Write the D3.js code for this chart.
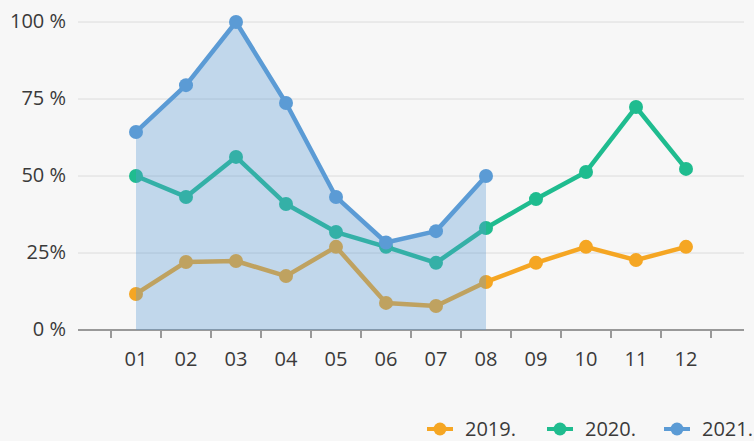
<!DOCTYPE html>
<html>
<head>
<meta charset="utf-8">
<script src="https://cdn.jsdelivr.net/npm/d3@7"></script>
<style>
  body { margin: 0; background: #f7f7f7; }
  svg { display: block; font-family: "Open Sans", sans-serif; }
</style>
</head>
<body>
<script>
// chart data
var months = ["01", "02", "03", "04", "05", "06", "07", "08", "09", "10", "11", "12"];
var yTicks = [0, 25, 50, 75, 100];
var yTickLabels = ["0 %", "25%", "50 %", "75 %", "100 %"];
var years = ["2019.", "2020.", "2021."];
var v2019 = [11.7, 22.1, 22.4, 17.5, 27.0, 8.8, 7.8, 15.6, 21.8, 27.0, 22.7, 27.0];
var v2020 = [50.0, 43.2, 56.2, 40.9, 31.8, 27.0, 21.8, 33.1, 42.5, 51.3, 72.4, 52.3];
var v2021 = [64.3, 79.5, 100, 73.7, 43.2, 28.4, 32.1, 50.0];

var colors = ["#f5a623", "#1fbc8f", "#5b9bd5"];

var width = 754, height = 441;

var svg = d3.select("body")
    .append("svg")
    .attr("width", width)
    .attr("height", height);

svg.append("rect")
    .attr("width", width)
    .attr("height", height)
    .attr("fill", "#f7f7f7");

// scales
var x = d3.scaleBand().domain(months).range([111, 711]);
var y = d3.scaleLinear().domain([0, 100]).range([330, 22]);
var axisLeft = 78, axisRight = 744;

// grid lines
svg.append("g")
    .selectAll("line")
    .data(yTicks.slice(1))
    .enter()
    .append("line")
    .attr("x1", axisLeft)
    .attr("x2", axisRight)
    .attr("y1", d => y(d))
    .attr("y2", d => y(d))
    .attr("stroke", "#dcdcdc")
    .attr("stroke-width", 1);

// y labels
svg.append("g")
    .selectAll("text")
    .data(yTicks)
    .enter()
    .append("text")
    .attr("x", 66)
    .attr("y", d => y(d))
    .attr("dy", "0.3em")
    .attr("text-anchor", "end")
    .attr("font-size", 20)
    .attr("fill", "#3a3a3a")
    .text((d, i) => yTickLabels[i]);

// x axis
var xAxis = svg.append("g")
    .attr("transform", "translate(0," + y(0) + ")")
    .call(d3.axisBottom(x).tickSize(0).tickPadding(22));
xAxis.select(".domain").remove();
xAxis.selectAll("text")
    .attr("font-size", 20)
    .attr("font-family", "Open Sans, sans-serif")
    .attr("fill", "#3a3a3a");

svg.append("line")
    .attr("x1", axisLeft)
    .attr("x2", axisRight)
    .attr("y1", y(0))
    .attr("y2", y(0))
    .attr("stroke", "#999")
    .attr("stroke-width", 2);

// tick marks on band edges
var edges = months.map(m => x(m)).concat([x.range()[1]]);
svg.append("g")
    .selectAll("line")
    .data(edges)
    .enter()
    .append("line")
    .attr("x1", d => d)
    .attr("x2", d => d)
    .attr("y1", y(0))
    .attr("y2", y(0) + 8)
    .attr("stroke", "#999")
    .attr("stroke-width", 2);

var cx = function (d, i) { return x(months[i]) + x.bandwidth() / 2; };

var line = d3.line()
    .x(cx)
    .y(d => y(d));

function drawSeries(vals, color) {
    svg.append("path")
        .datum(vals)
        .attr("d", line)
        .attr("fill", "none")
        .attr("stroke", color)
        .attr("stroke-width", 4.5)
        .attr("stroke-linejoin", "round");
    svg.append("g")
        .selectAll("circle")
        .data(vals)
        .enter()
        .append("circle")
        .attr("cx", cx)
        .attr("cy", d => y(d))
        .attr("r", 7)
        .attr("fill", color);
}

drawSeries(v2019, colors[0]);
drawSeries(v2020, colors[1]);

// area under 2021
var area = d3.area()
    .x(cx)
    .y0(y(0))
    .y1(d => y(d));
svg.append("path")
    .datum(v2021)
    .attr("d", area)
    .attr("fill", colors[2])
    .attr("fill-opacity", 0.35);

drawSeries(v2021, colors[2]);

// legend
var legendX = [427, 547, 664];
var legend = svg.append("g")
    .selectAll("g")
    .data(years)
    .enter()
    .append("g")
    .attr("transform", (d, i) => "translate(" + legendX[i] + ",429)");
legend.append("line")
    .attr("x1", 0)
    .attr("x2", 26)
    .attr("stroke", (d, i) => colors[i])
    .attr("stroke-width", 4);
legend.append("circle")
    .attr("cx", 13)
    .attr("r", 6.5)
    .attr("fill", (d, i) => colors[i]);
legend.append("text")
    .attr("x", 38)
    .attr("dy", "0.35em")
    .attr("font-size", 20)
    .attr("fill", "#3a3a3a")
    .text(d => d);
</script>
</body>
</html>
